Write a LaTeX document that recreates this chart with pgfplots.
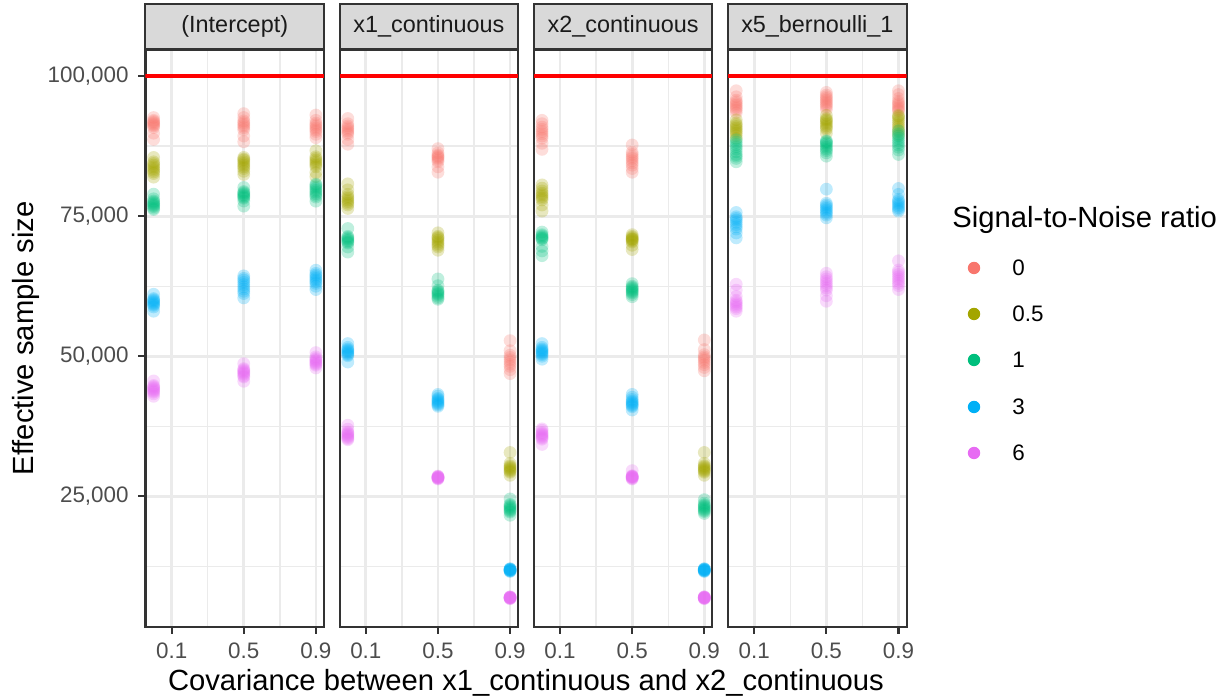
\documentclass[border=0pt]{standalone}
\usepackage{pgfplots}
\pgfplotsset{compat=1.18}
\usepackage{pgfplotstable}
\usepackage{fontspec}
\setmainfont{Liberation Sans}
\definecolor{c0}{HTML}{F8766D}
\definecolor{c1}{HTML}{A3A500}
\definecolor{c2}{HTML}{00BF7D}
\definecolor{c3}{HTML}{00B0F6}
\definecolor{c4}{HTML}{E76BF3}
\definecolor{grey92}{HTML}{EBEBEB}
\definecolor{grey85}{HTML}{D9D9D9}
\definecolor{grey20}{HTML}{333333}
\definecolor{grey30}{HTML}{4D4D4D}
\definecolor{grey10}{HTML}{1A1A1A}

% Panel 1: (Intercept)
\pgfplotstableread{
x a b c d e
0 88700 81960 76190 58040 42860
0 89800 82600 76400 58800 43300
0 90800 82900 76700 59100 43600
0 91100 83200 76900 59300 43800
0 91300 83500 77100 59500 44000
0 91500 83800 77300 59700 44200
0 91700 84100 77500 59900 44400
0 91900 84400 77700 60100 44600
0 92100 84700 78100 60300 44800
0 92600 85480 78930 61070 45600
0.5 88270 82440 76790 60420 45540
0.5 89300 83000 77700 61200 46300
0.5 90400 83500 78200 61600 46500
0.5 90800 83800 78400 62000 46800
0.5 91100 84100 78600 62400 47000
0.5 91400 84400 78800 62800 47200
0.5 91700 84700 79000 63200 47400
0.5 92000 85000 79200 63600 47600
0.5 92600 85200 79400 63900 47800
0.5 93300 85480 80120 64350 48690
0.9 88990 82030 77680 61910 47920
0.9 89600 82800 78400 62500 48400
0.9 90100 83800 78700 63000 48600
0.9 90400 84100 79000 63300 48800
0.9 90700 84400 79300 63600 49000
0.9 91000 84700 79600 63900 49200
0.9 91300 85000 79900 64200 49400
0.9 91600 85300 80200 64500 49600
0.9 92100 85600 80500 64800 49900
0.9 93040 86670 80720 65360 50660
}\tabA

% Panel 2: x1_continuous
\pgfplotstableread{
x a b c d e
0 87830 76370 68590 48970 35110
0 88700 77000 69500 50100 35300
0 89600 77300 70200 50300 35500
0 89900 77600 70400 50500 35700
0 90200 77900 70600 50700 35900
0 90500 78200 70800 50900 36100
0 90800 78500 71000 51100 36300
0 91100 78900 71200 51300 36500
0 91500 79700 71400 51600 37000
0 92430 80770 72800 52270 37700
0.5 82840 68920 60170 41070 28100
0.5 83800 69500 60400 41300 28200
0.5 84700 69800 60700 41500 28250
0.5 85000 70100 61000 41700 28300
0.5 85300 70400 61200 41900 28350
0.5 85500 70700 61400 42100 28400
0.5 85700 71000 61600 42300 28450
0.5 85900 71200 61800 42500 28500
0.5 86300 71400 62600 42900 28550
0.5 87050 72030 63800 43200 28630
0.9 46900 28760 21640 11600 6750
0.9 47600 29300 22200 11700 6800
0.9 48200 29500 22400 11750 6850
0.9 48600 29700 22600 11800 6900
0.9 49000 29900 22800 11850 6920
0.9 49400 30100 23000 11900 6950
0.9 49800 30300 23200 11950 6980
0.9 50200 30500 23400 12000 7000
0.9 51000 30900 23600 12050 7050
0.9 52790 32840 24550 12100 7100
}\tabB

% Panel 3: x2_continuous
\pgfplotstableread{
x a b c d e
0 86920 75910 67950 49480 34270
0 88000 77000 68800 50000 35200
0 88900 77900 69600 50300 35400
0 89300 78200 70800 50500 35600
0 89700 78500 71000 50700 35800
0 90100 78800 71100 50900 36000
0 90500 79100 71300 51100 36200
0 90900 79500 71500 51300 36400
0 91500 80000 71700 51600 36800
0 92100 80580 72160 52270 37050
0.5 82840 69050 60630 40420 28100
0.5 83500 69800 61000 41000 28200
0.5 84100 70400 61300 41200 28300
0.5 84500 70600 61500 41400 28400
0.5 84900 70800 61700 41600 28450
0.5 85300 70900 61900 41800 28500
0.5 85600 71000 62100 42000 28550
0.5 86000 71200 62300 42300 28600
0.5 86400 71400 62500 42700 28700
0.5 87700 71700 62960 43200 29600
0.9 47410 28760 21960 11600 6750
0.9 48000 29300 22300 11700 6800
0.9 48500 29500 22500 11750 6850
0.9 48900 29700 22700 11800 6900
0.9 49300 29900 22900 11850 6920
0.9 49600 30100 23100 11900 6950
0.9 49900 30300 23300 11950 6980
0.9 50300 30500 23500 12000 7000
0.9 51200 30900 23800 12050 7050
0.9 52920 32840 24420 12100 7100
}\tabC

% Panel 4: x5_bernoulli_1
\pgfplotstableread{
x a b c d e
0 93450 88900 84700 71130 58040
0 93900 89400 85300 72000 58500
0 94200 89800 85700 72700 58800
0 94500 90100 86000 73100 59100
0 94800 90400 86500 73500 59400
0 95100 90700 87000 73900 59700
0 95400 91000 87400 74300 60000
0 95700 91300 87800 74600 60700
0 96300 91600 88200 74900 61800
0 97380 92200 88630 75660 62860
0.5 94050 89800 85710 74700 59820
0.5 94500 90500 86300 75200 60800
0.5 94800 90800 86700 75500 61800
0.5 95100 91100 87000 75800 62200
0.5 95400 91400 87300 76100 62600
0.5 95700 91700 87600 76400 63000
0.5 96000 92000 87900 76700 63400
0.5 96300 92200 88100 77000 63800
0.5 96600 92400 88300 77300 64200
0.5 97080 93000 88450 79820 64820
0.9 93750 89500 86010 75900 61910
0.9 94000 90100 86800 76200 62600
0.9 94300 90500 87300 76500 63000
0.9 94600 90900 87700 76800 63400
0.9 94900 91300 88100 77100 63800
0.9 95200 91700 88500 77400 64200
0.9 95500 92100 88900 77700 64600
0.9 96000 92500 89300 78000 65000
0.9 96700 92800 89700 78900 65400
0.9 97380 93000 90240 79940 67030
}\tabD

\pgfplotsset{
  panel/.style={
    scale only axis, width=89.25pt, height=288.5pt,
    anchor=south west,
    xmin=-0.045, xmax=0.945, ymin=1700, ymax=104650,
    scaled y ticks=false, scaled x ticks=false,
    xtick={0.1,0.5,0.9}, xticklabels={0.1,0.5,0.9},
    minor xtick={0.3,0.7},
    ytick={25000,50000,75000,100000},
    minor ytick={12500,37500,62500,87500},
    grid=both,
    major grid style={draw=grey92, line width=1.36pt},
    minor grid style={draw=grey92, line width=0.68pt},
    axis line style={draw=grey20, line width=1.0pt},
    tick align=outside, major tick length=3.5pt, minor tick length=0pt,
    tick style={draw=grey20, line width=1.07pt},
    xtick pos=bottom, ytick pos=left,
    every tick label/.append style={font=\fontsize{11.2}{13}\selectfont, text=grey30},
    xticklabel style={anchor=north, inner sep=0pt, yshift=-4pt},
    yticklabel style={anchor=east, inner sep=0pt, xshift=-4.75pt},
    every axis title shift=0pt,
    title style={at={(0.5,1)}, anchor=south, draw=grey20, fill=grey85, line width=1.0pt,
      minimum width=89.25pt, minimum height=22.5pt, inner sep=0pt, yshift=0pt,
      text=grey10, font=\fontsize{11.7}{13}\selectfont},
  },
  inner/.style={yticklabels={}, every major y tick/.append style={draw=none}},
  pts/.style={only marks, mark=*, mark size=3.2pt,
    mark options={fill=#1, draw opacity=0, fill opacity=0.25}},
}

\newcommand{\panelplots}[1]{%
  \addplot[pts=c0] table[x=x,y=a] {#1};
  \addplot[pts=c1] table[x=x,y=b] {#1};
  \addplot[pts=c2] table[x=x,y=c] {#1};
  \addplot[pts=c3] table[x=x,y=d] {#1};
  \addplot[pts=c4] table[x=x,y=e] {#1};
  \addplot[red, line width=1.6pt] coordinates {(-0.045,100000) (0.945,100000)};
}

\begin{document}
\begin{tikzpicture}
\useasboundingbox (0,0) rectangle (612.5pt,350pt);

\begin{axis}[panel, at={(72.75pt,36.5pt)}, title={(Intercept)},
  yticklabels={{25,000},{50,000},{75,000},{100,000}}]
\panelplots{\tabA}
\end{axis}

\begin{axis}[panel, inner, at={(169.85pt,36.5pt)}, title={x1\_continuous}]
\panelplots{\tabB}
\end{axis}

\begin{axis}[panel, inner, at={(266.95pt,36.5pt)}, title={x2\_continuous}]
\panelplots{\tabC}
\end{axis}

\begin{axis}[panel, inner, at={(364.05pt,36.5pt)}, title={x5\_bernoulli\_1}]
\panelplots{\tabD}
\end{axis}

% overlay axis for titles and legend (units = pt)
\begin{axis}[scale only axis, width=612.5pt, height=350pt, at={(0,0)}, anchor=south west,
  xmin=0, xmax=612.5, ymin=0, ymax=350, hide axis, clip=false]
\node[rotate=90, anchor=base, inner sep=0pt, font=\fontsize{14.6}{16}\selectfont] at (axis cs:16.7,180.75) {Effective sample size};
\node[anchor=base, inner sep=0pt, font=\fontsize{14.6}{16}\selectfont] at (axis cs:263,4.7) {Covariance between x1\_continuous and x2\_continuous};
\node[anchor=base west, inner sep=0pt, font=\fontsize{14.6}{16}\selectfont] at (axis cs:476,236) {Signal-to-Noise ratio};
\addplot[only marks, mark=*, mark size=3.1pt, mark options={fill=c0, draw opacity=0}] coordinates {(487,216)};
\addplot[only marks, mark=*, mark size=3.1pt, mark options={fill=c1, draw opacity=0}] coordinates {(487,193)};
\addplot[only marks, mark=*, mark size=3.1pt, mark options={fill=c2, draw opacity=0}] coordinates {(487,170)};
\addplot[only marks, mark=*, mark size=3.1pt, mark options={fill=c3, draw opacity=0}] coordinates {(487,146.5)};
\addplot[only marks, mark=*, mark size=3.1pt, mark options={fill=c4, draw opacity=0}] coordinates {(487,123.5)};
\node[anchor=west, inner sep=0pt, font=\fontsize{11.2}{13}\selectfont] at (axis cs:506,216) {0};
\node[anchor=west, inner sep=0pt, font=\fontsize{11.2}{13}\selectfont] at (axis cs:506,193) {0.5};
\node[anchor=west, inner sep=0pt, font=\fontsize{11.2}{13}\selectfont] at (axis cs:506,170) {1};
\node[anchor=west, inner sep=0pt, font=\fontsize{11.2}{13}\selectfont] at (axis cs:506,146.5) {3};
\node[anchor=west, inner sep=0pt, font=\fontsize{11.2}{13}\selectfont] at (axis cs:506,123.5) {6};
\end{axis}
\end{tikzpicture}
\end{document}
